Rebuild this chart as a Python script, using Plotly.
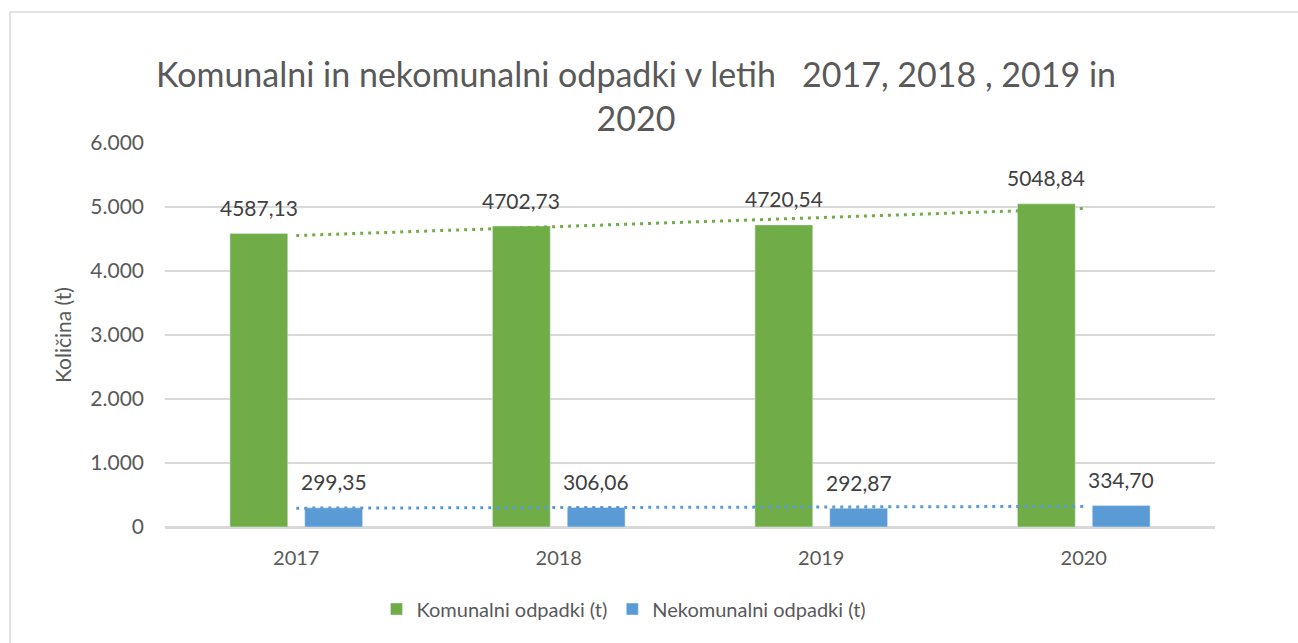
import numpy as np
import plotly.graph_objects as go

years = ["2017", "2018", "2019", "2020"]
komunalni = [4587.13, 4702.73, 4720.54, 5048.84]
nekomunalni = [299.35, 306.06, 292.87, 334.70]
series_names = ["Komunalni odpadki (t)", "Nekomunalni odpadki (t)"]
title_text = "Komunalni in nekomunalni odpadki v letih   2017, 2018 , 2019 in<br>2020"
y_title = "Količina (t)"
y_ticks = [0, 1000, 2000, 3000, 4000, 5000, 6000]

GREEN = "#70AD47"
BLUE = "#5B9BD5"
TXT = "#595959"
GRID = "#D9D9D9"
FONT = "Lato"

def fmt(v):
    return f"{v:.2f}".replace(".", ",")

def trend(vals):
    x = np.arange(len(vals))
    k, b = np.polyfit(x, vals, 1)
    return [float(v) for v in (k * x + b)]

fig = go.Figure()
fig.add_trace(go.Bar(x=years, y=komunalni, name=series_names[0], marker_color=GREEN))
fig.add_trace(go.Bar(x=years, y=nekomunalni, name=series_names[1], marker_color=BLUE))
fig.add_trace(go.Scatter(x=years, y=trend(komunalni), mode="lines", showlegend=False,
                         line=dict(color=GREEN, width=3, dash="3px,5px"), hoverinfo="skip"))
fig.add_trace(go.Scatter(x=years, y=trend(nekomunalni), mode="lines", showlegend=False,
                         line=dict(color=BLUE, width=3, dash="3px,5px"), hoverinfo="skip"))

ann = []
for vals, shift in ((komunalni, -37.5), (nekomunalni, 37.5)):
    for i, v in enumerate(vals):
        ann.append(dict(x=i, y=v, xref="x", yref="y", text=fmt(v), showarrow=False,
                        xshift=shift, yshift=26, yanchor="middle",
                        font=dict(family=FONT, size=21, color="#404040")))

L, R, T, B = 165, 83, 143, 116
W, H = 1298, 643
pw, ph = W - L - R, H - T - B
def px(x):
    return (x - L) / pw
def py(y):
    return (H - B - y) / ph

fig.update_layout(
    width=W, height=H,
    margin=dict(l=L, r=R, t=T, b=B, autoexpand=False),
    paper_bgcolor="white", plot_bgcolor="white",
    separators=",.",
    barmode="group", bargap=0.43, bargroupgap=0.227,
    font=dict(family=FONT, color=TXT, size=20),
    title=dict(text=title_text, x=px(636), xref="paper", xanchor="center",
               y=1 - 87 / H, yref="container", yanchor="top",
               font=dict(family=FONT, size=34, color=TXT)),
    xaxis=dict(type="category", range=[-0.5, 3.5], showgrid=False, showline=True,
               linecolor=GRID, linewidth=1.5,
               ticks="", ticklabelstandoff=12, tickfont=dict(size=20, color=TXT)),
    yaxis=dict(range=[0, 6000], tickvals=y_ticks,
               tickformat=",d", showgrid=True, gridcolor=GRID, gridwidth=1.5,
               zeroline=True, zerolinecolor=GRID, zerolinewidth=1.5, showline=False,
               ticks="", ticklabelstandoff=20, tickfont=dict(size=21, color=TXT)),
    legend=dict(orientation="h", x=px(624), xanchor="center", y=py(609), yanchor="middle",
                font=dict(size=20, color=TXT), itemwidth=30, traceorder="normal"),
    annotations=ann,
    shapes=[dict(type="rect", xref="paper", yref="paper", x0=px(10), x1=px(1310),
                 y0=py(660), y1=py(12), line=dict(color=GRID, width=1.5), layer="below")],
    showlegend=True,
)
fig.update_yaxes(title=dict(text=y_title, standoff=12, font=dict(size=21, color=TXT)))

fig.write_html("out.html", config={"displayModeBar": False},
               post_script="document.body.style.margin='0';")
